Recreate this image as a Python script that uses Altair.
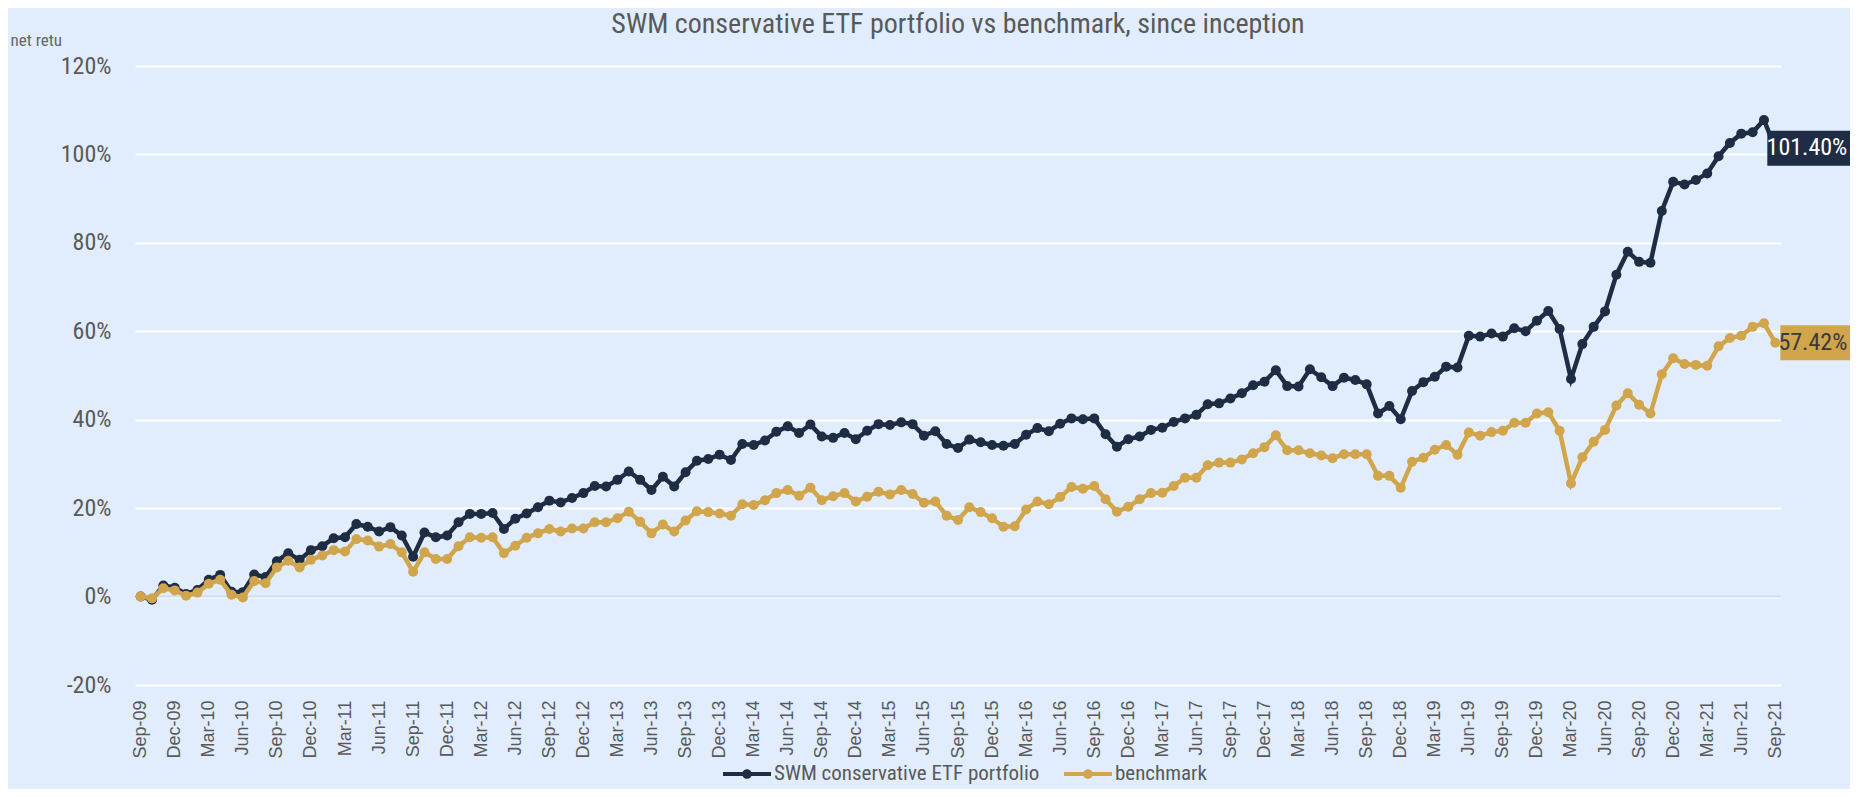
import altair as alt
import pandas as pd

# ---------------- data ----------------
months = pd.date_range("2009-09-01", periods=145, freq="MS").strftime("%b-%y").tolist()
tick_idx = list(range(0, 145, 3))
tick_labels = [months[i] for i in tick_idx]

portfolio = [
    0.0, -0.7, 2.5, 2.0, 0.6, 1.5, 3.8, 4.9, 1.1, 1.0, 5.0, 4.4,
    8.0, 9.8, 8.3, 10.5, 11.4, 13.2, 13.4, 16.4, 15.8, 14.7, 15.7, 13.8,
    9.0, 14.5, 13.4, 13.8, 16.8, 18.7, 18.7, 18.9, 15.3, 17.6, 18.8, 20.2,
    21.7, 21.3, 22.3, 23.4, 25.0, 24.9, 26.4, 28.3, 26.4, 24.1, 27.1, 24.9,
    28.1, 30.7, 31.1, 32.1, 30.9, 34.5, 34.3, 35.3, 37.3, 38.5, 37.0, 38.9,
    36.2, 35.9, 37.0, 35.6, 37.5, 39.0, 38.8, 39.4, 39.0, 36.4, 37.4, 34.5,
    33.6, 35.5, 34.9, 34.3, 34.1, 34.5, 36.6, 38.1, 37.4, 39.1, 40.3, 40.1,
    40.3, 36.7, 33.9, 35.6, 36.2, 37.7, 38.2, 39.5, 40.3, 41.1, 43.5, 43.7,
    44.8, 46.0, 47.8, 48.6, 51.2, 47.6, 47.5, 51.4, 49.6, 47.6, 49.5, 49.0,
    48.0, 41.4, 43.1, 40.1, 46.5, 48.5, 49.7, 52.0, 51.8, 59.0, 58.8, 59.5,
    58.8, 60.7, 60.0, 62.4, 64.6, 60.5, 49.2, 57.1, 61.0, 64.5, 72.8, 78.0,
    75.7, 75.5, 87.2, 93.8, 93.2, 94.2, 95.7, 99.6, 102.6, 104.7, 105.0, 107.8,
    101.40,
]
benchmark = [
    0.0, -0.4, 1.9, 1.4, 0.2, 0.9, 2.9, 3.8, 0.4, -0.2, 3.5, 3.0,
    6.6, 8.1, 6.6, 8.3, 9.3, 10.5, 10.2, 13.0, 12.7, 11.3, 11.9, 10.0,
    5.6, 10.0, 8.5, 8.5, 11.4, 13.4, 13.3, 13.4, 9.8, 11.5, 13.3, 14.3,
    15.3, 14.7, 15.4, 15.4, 16.8, 16.8, 17.7, 19.2, 16.9, 14.3, 16.3, 14.7,
    17.2, 19.3, 19.1, 18.8, 18.3, 20.9, 20.7, 21.8, 23.4, 24.1, 22.8, 24.6,
    21.8, 22.7, 23.4, 21.5, 22.6, 23.7, 23.1, 24.1, 23.2, 21.2, 21.5, 18.3,
    17.3, 20.2, 19.1, 17.7, 15.8, 15.9, 19.7, 21.5, 20.9, 22.5, 24.8, 24.4,
    25.0, 22.0, 19.2, 20.3, 22.0, 23.4, 23.5, 25.0, 26.9, 26.9, 29.7, 30.3,
    30.3, 31.0, 32.4, 33.8, 36.5, 33.1, 33.1, 32.4, 31.9, 31.3, 32.2, 32.2,
    32.2, 27.3, 27.3, 24.6, 30.5, 31.4, 33.2, 34.3, 32.1, 37.1, 36.4, 37.2,
    37.5, 39.3, 39.3, 41.4, 41.7, 37.5, 25.6, 31.5, 35.0, 37.7, 43.2, 46.0,
    43.4, 41.4, 50.3, 53.9, 52.6, 52.4, 52.2, 56.6, 58.5, 59.0, 61.0, 61.8,
    57.42,
]
series_names = ["SWM conservative ETF portfolio", "benchmark"]
series_values = [portfolio, benchmark]
y_ticks = [-20, 0, 20, 40, 60, 80, 100, 120]

# ---------------- style ----------------
NAVY = "#1E2C44"
GOLD = "#D0A54C"
colors = [NAVY, GOLD]
BG = "#E1EDFD"
GREY = "#595959"
NARROW = "Liberation Sans Narrow, Roboto Condensed, DejaVu Sans Condensed, Liberation Sans, sans-serif"
REG = "Liberation Sans, Arial, sans-serif"

label_expr = "[" + ",".join("'" + t + "'" for t in tick_labels) + "][round(datum.value/3)]"

X = alt.X(
    "i:Q",
    scale=alt.Scale(domain=[-0.5, 144.5], nice=False, zero=False),
    axis=alt.Axis(
        values=tick_idx, labelExpr=label_expr, labelAngle=-90, title=None,
        grid=False, ticks=False, domain=False, labelOverlap=False,
        labelFlush=False, labelBound=False, labelPadding=15,
        labelFont=REG, labelFontSize=18, labelColor=GREY,
    ),
)
Y = alt.Y(
    "value:Q",
    scale=alt.Scale(domain=[-20, 120], nice=False, zero=False),
    axis=alt.Axis(
        values=y_ticks, labelExpr="datum.value + '%'", title="net retu",
        grid=True, gridColor="white", gridWidth=2, ticks=False, domain=False,
        labelPadding=24, labelFont=NARROW, labelFontSize=24, labelColor=GREY,
        titleAngle=0, titleAlign="left", titleBaseline="alphabetic",
        titleX=-125, titleY=-21, titleFont=NARROW, titleFontSize=17,
        titleFontWeight="normal", titleColor="#666666",
    ),
)

LEGEND_PATH = ("M-1,-0.08H1V0.08H-1Z"
               "M-0.2,0A0.2,0.2 0 1,1 0.2,0A0.2,0.2 0 1,1 -0.2,0Z")

color_scale = alt.Scale(domain=series_names, range=colors)
LEGEND = alt.Legend(
    orient="none", legendX=588, legendY=684, direction="horizontal",
    title=None, symbolType=LEGEND_PATH, symbolSize=2304,
    symbolStrokeWidth=0, symbolOpacity=1, symbolFillColor=NAVY,
    labelFont=NARROW, labelFontSize=21, labelColor=GREY, labelOffset=3,
    columnPadding=24, labelLimit=500,
)
COLOR = alt.Color("series:N", scale=color_scale, legend=LEGEND)

rows = []
for name, vals in zip(series_names, series_values):
    for i, v in enumerate(vals):
        rows.append({"i": i, "month": months[i], "series": name, "value": v})
df = pd.DataFrame(rows)

zero_rule = alt.Chart(pd.DataFrame({"value": [0]})).mark_rule(
    color="#D2DDEC", strokeWidth=2
).encode(y=Y)

layers = [zero_rule]
for k, name in enumerate(series_names):
    d = df[df["series"] == name]
    line = alt.Chart(d).mark_line(strokeWidth=4.5).encode(x=X, y=Y, color=COLOR)
    pts = alt.Chart(d).mark_point(filled=True, size=100, opacity=1).encode(
        x=X, y=Y, color=COLOR
    )
    layers += [line, pts]

# end-of-series value labels
box_left = [-8, 5]
text_colors = ["white", "#3A3A3A"]
for k, name in enumerate(series_names):
    last = series_values[k][-1]
    lab = pd.DataFrame({"i": [144], "value": [last], "text": [f"{last:.2f}%"]})
    box = alt.Chart(lab).mark_rect(
        color=colors[k], opacity=1, xOffset=box_left[k], x2Offset=90,
        yOffset=-17.5, y2Offset=17.5,
    ).encode(x=X, x2=alt.X2("i:Q"), y=Y, y2=alt.Y2("value:Q"))
    txt = alt.Chart(lab).mark_text(
        align="right", baseline="middle", dx=72, font=NARROW, fontSize=24,
        color=text_colors[k],
    ).encode(x=X, y=Y, text="text:N")
    layers += [box, txt]

chart = alt.layer(*layers).properties(
    width=1646,
    height=619,
    background=BG,
    autosize=alt.AutoSizeParams(type="none"),
    padding={"left": 127, "top": 58, "right": 69, "bottom": 104},
    title=alt.TitleParams(
        text="SWM conservative ETF portfolio vs benchmark, since inception",
        font=NARROW, fontSize=28, color=GREY, fontWeight="normal",
        anchor="middle", frame="group", offset=-8,
    ),
).configure_view(stroke=None)

chart.save("out.html", embed_options={"renderer": "svg", "actions": False})
